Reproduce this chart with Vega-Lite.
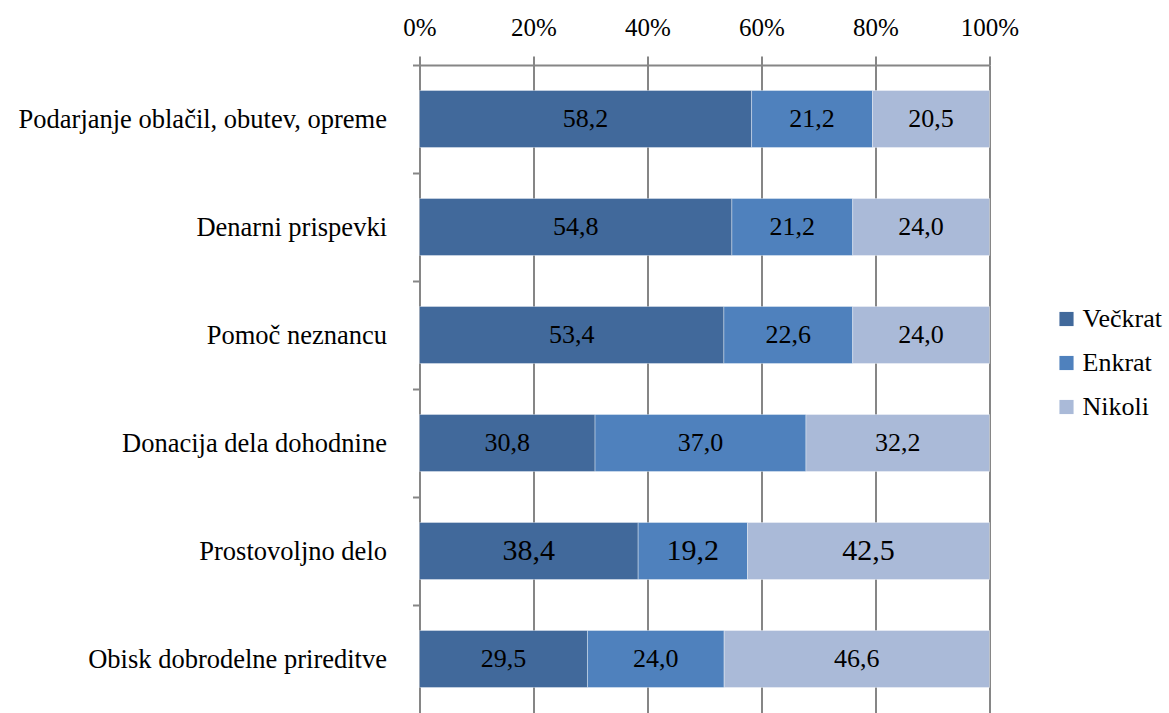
{
  "$schema": "https://vega.github.io/schema/vega-lite/v6.json",
  "width": 570,
  "height": 648,
  "autosize": {"type": "none"},
  "padding": {"left": 419.5, "top": 65, "right": 179.5, "bottom": 0},
  "config": {
    "locale": {"number": {"decimal": ",", "thousands": ".", "grouping": [3], "currency": ["", " €"]}},
    "font": "Times New Roman, Liberation Serif, serif",
    "view": {"stroke": null}
  },
  "data": {
    "values": [
      {"kategorija": "Podarjanje oblačil, obutev, opreme", "odgovor": "Večkrat", "red": 1, "vrednost": 58.2},
      {"kategorija": "Podarjanje oblačil, obutev, opreme", "odgovor": "Enkrat", "red": 2, "vrednost": 21.2},
      {"kategorija": "Podarjanje oblačil, obutev, opreme", "odgovor": "Nikoli", "red": 3, "vrednost": 20.5},
      {"kategorija": "Denarni prispevki", "odgovor": "Večkrat", "red": 1, "vrednost": 54.8},
      {"kategorija": "Denarni prispevki", "odgovor": "Enkrat", "red": 2, "vrednost": 21.2},
      {"kategorija": "Denarni prispevki", "odgovor": "Nikoli", "red": 3, "vrednost": 24.0},
      {"kategorija": "Pomoč neznancu", "odgovor": "Večkrat", "red": 1, "vrednost": 53.4},
      {"kategorija": "Pomoč neznancu", "odgovor": "Enkrat", "red": 2, "vrednost": 22.6},
      {"kategorija": "Pomoč neznancu", "odgovor": "Nikoli", "red": 3, "vrednost": 24.0},
      {"kategorija": "Donacija dela dohodnine", "odgovor": "Večkrat", "red": 1, "vrednost": 30.8},
      {"kategorija": "Donacija dela dohodnine", "odgovor": "Enkrat", "red": 2, "vrednost": 37.0},
      {"kategorija": "Donacija dela dohodnine", "odgovor": "Nikoli", "red": 3, "vrednost": 32.2},
      {"kategorija": "Prostovoljno delo", "odgovor": "Večkrat", "red": 1, "vrednost": 38.4},
      {"kategorija": "Prostovoljno delo", "odgovor": "Enkrat", "red": 2, "vrednost": 19.2},
      {"kategorija": "Prostovoljno delo", "odgovor": "Nikoli", "red": 3, "vrednost": 42.5},
      {"kategorija": "Obisk dobrodelne prireditve", "odgovor": "Večkrat", "red": 1, "vrednost": 29.5},
      {"kategorija": "Obisk dobrodelne prireditve", "odgovor": "Enkrat", "red": 2, "vrednost": 24.0},
      {"kategorija": "Obisk dobrodelne prireditve", "odgovor": "Nikoli", "red": 3, "vrednost": 46.6}
    ]
  },
  "transform": [
    {"stack": "vrednost", "groupby": ["kategorija"], "sort": [{"field": "red", "order": "ascending"}], "offset": "normalize", "as": ["v0", "v1"]},
    {"calculate": "(datum.v0 + datum.v1) / 2", "as": "mid"}
  ],
  "encoding": {
    "y": {
      "field": "kategorija",
      "type": "nominal",
      "sort": null,
      "scale": {"paddingInner": 0.472, "paddingOuter": 0.236},
      "axis": {
        "title": null,
        "labelFont": "Times New Roman, Liberation Serif, serif",
        "labelFontSize": 26.5,
        "labelColor": "#000000",
        "labelPadding": 26,
        "labelLimit": 500,
        "bandPosition": 0,
        "tickOffset": -25.5,
        "labelOffset": 25.5,
        "tickSize": 7,
        "tickColor": "#868686",
        "tickWidth": 2,
        "domainColor": "#868686",
        "domainWidth": 2,
        "grid": false
      }
    }
  },
  "layer": [
    {
      "mark": {"type": "bar", "stroke": "#ffffff", "strokeWidth": 0.6, "strokeOpacity": 0.6},
      "encoding": {
        "x": {
          "field": "v0",
          "type": "quantitative",
          "scale": {"domain": [0, 1], "nice": false},
          "axis": {
            "orient": "top",
            "title": null,
            "values": [0, 0.2, 0.4, 0.6, 0.8, 1],
            "format": ".0%",
            "labelFont": "Times New Roman, Liberation Serif, serif",
            "labelFontSize": 25,
            "labelColor": "#000000",
            "labelBaseline": "alphabetic",
            "labelFlush": false,
            "labelPadding": 21,
            "grid": true,
            "gridColor": "#868686",
            "gridWidth": 2,
            "tickColor": "#868686",
            "tickWidth": 2,
            "tickSize": 9,
            "domainColor": "#868686",
            "domainWidth": 2
          }
        },
        "x2": {"field": "v1"},
        "color": {
          "field": "odgovor",
          "type": "nominal",
          "scale": {"domain": ["Večkrat", "Enkrat", "Nikoli"], "range": ["#41699B", "#4F81BD", "#AABAD8"]},
          "legend": {
            "orient": "none",
            "legendX": 634,
            "legendY": 241,
            "title": null,
            "padding": 0,
            "symbolType": "square",
            "symbolSize": 200,
            "symbolStrokeWidth": 0,
            "labelFont": "Times New Roman, Liberation Serif, serif",
            "labelFontSize": 26,
            "labelColor": "#000000",
            "labelOffset": 3,
            "rowPadding": 18
          }
        }
      }
    },
    {
      "mark": {"type": "text", "font": "Times New Roman, Liberation Serif, serif", "color": "#000000", "baseline": "middle", "align": "center"},
      "encoding": {
        "x": {"field": "mid", "type": "quantitative"},
        "text": {"field": "vrednost", "type": "quantitative", "format": ".1f"},
        "size": {"condition": {"test": "datum.kategorija === 'Prostovoljno delo'", "value": 30}, "value": 26}
      }
    }
  ]
}
